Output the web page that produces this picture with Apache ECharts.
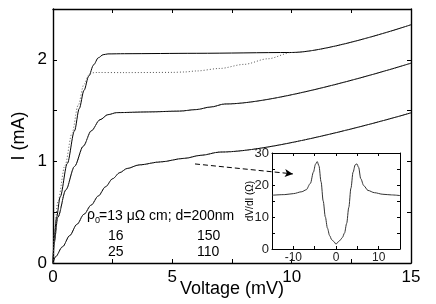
<!DOCTYPE html>
<html><head><meta charset="utf-8">
<script src="https://cdn.jsdelivr.net/npm/echarts@6/dist/echarts.min.js"></script>
<style>html,body{margin:0;padding:0;background:#fff}#c{width:436px;height:304px}</style>
</head><body><div id="c"></div>
<script>
// Main panel: I (mA) vs Voltage (mV)
const topSolid = [[0,0],[0.05,0.25],[0.15,0.45],[0.3,0.65],[0.6,0.98],[0.9,1.3],[1.1,1.52],[1.3,1.7],[1.5,1.84],[1.7,1.95],[1.9,2.02],[2.1,2.05],[2.3,2.058],[3,2.06],[6,2.064],[10,2.072],[15,2.345]];
const topDotted = [[0,0],[0.05,0.3],[0.2,0.6],[0.5,0.96],[0.8,1.28],[1.05,1.55],[1.3,1.76],[1.5,1.85],[1.65,1.872],[1.8,1.875],[3,1.874],[5,1.876],[5.5,1.88],[6,1.89],[7,1.915],[8,1.955],[9,2.01],[10,2.072],[15,2.345]];
const midSolid = [[0,0],[0.05,0.2],[0.2,0.45],[0.54,0.72],[0.9,0.95],[1.27,1.15],[1.6,1.3],[1.97,1.41],[2.3,1.46],[2.67,1.48],[4,1.487],[5.3,1.495],[6,1.51],[6.6,1.535],[7.2,1.565],[15,1.967]];
const midDotted = [[0,0],[0.05,0.2],[0.2,0.45],[0.54,0.72],[0.9,0.95],[1.27,1.15],[1.6,1.3],[1.97,1.41],[2.3,1.46],[2.67,1.48],[4,1.487],[5.3,1.495],[6,1.51],[6.6,1.535],[7.2,1.565],[15,1.967]];
const botSolid = [[0,0],[0.1,0.06],[0.4,0.16],[0.7,0.27],[1.0,0.38],[1.3,0.48],[1.6,0.57],[1.9,0.66],[2.2,0.75],[2.5,0.83],[2.8,0.89],[3.1,0.93],[3.6,0.965],[4.5,0.995],[5.5,1.03],[6.2,1.06],[7,1.092],[15,1.478]];
const botDotted = [[0,0],[0.1,0.06],[0.4,0.16],[0.7,0.27],[1.0,0.38],[1.3,0.48],[1.6,0.57],[1.9,0.66],[2.2,0.75],[2.5,0.83],[2.8,0.89],[3.1,0.93],[3.6,0.965],[4.5,0.995],[5.5,1.03],[6.2,1.06],[7,1.092],[15,1.478]];
// Arrow annotation (data coords)
const arrowFrom = [5.95, 0.975];
const arrowTo = [10.05, 0.877];
// Inset: dV/dI (Ω) vs voltage
const insetV = [-15,-12,-10,-8,-7,-6,-5.3,-4.8,-4.4,-4.0,-3.5,-3,-2.5,-2,-1.5,-1,-0.5,0,0.5,1,1.5,2,2.5,3,3.5,4,4.5,4.9,5.3,5.8,6.5,7.5,9,11,13,15];
const insetR = [16.8,17.0,17.3,17.9,18.5,20.5,24,26.5,27.3,26,21,15,10,6.5,4.2,2.9,2.3,1.5,2.2,2.8,3.6,5,8,13,19,24,26.3,26.6,25.5,22,19.8,18.3,17.6,17.1,16.9,16.7];
// Labels
const xTitle = 'Voltage (mV)';
const yTitle = 'I (mA)';
const insetYTitle = 'dV/dI (Ω)';
const legendRows = [['16','150'],['25','110']];

const FF = "'Liberation Sans', Arial, Helvetica, sans-serif";
const chart = echarts.init(document.getElementById('c'), null, {renderer:'canvas'});

function ax(extra){
  return Object.assign({
    type:'value',
    axisLine:{show:true,onZero:false,lineStyle:{color:'#000',width:1.4}},
    axisTick:{show:true,inside:true,length:4,lineStyle:{color:'#000',width:1}},
    splitLine:{show:false},
    axisLabel:{show:false},
    nameMoveOverlap:false
  }, extra);
}
const insetLine = {show:true,onZero:false,lineStyle:{color:'#000',width:1}};
const insetTick = {show:true,inside:true,length:3,lineStyle:{color:'#000',width:1}};
const lineBase = {type:'line', showSymbol:false, symbol:'none', smooth:0.3, smoothMonotone:'x', animation:false, silent:true};
const dotStyle = {color:'#555',width:1,type:[1,2]};

chart.setOption({
  animation:false,
  backgroundColor:'#fff',
  grid:[
    {left:53, top:9, width:358, height:254, outerBoundsMode:'none', containLabel:false},
    {left:272, top:153, width:128, height:96, outerBoundsMode:'none', containLabel:false, backgroundColor:'#fff', show:true, borderWidth:0}
  ],
  xAxis:[
    ax({gridIndex:0, min:0, max:15, interval:2.5, position:'bottom',
      axisLabel:{show:true, color:'#000', fontSize:17, fontFamily:FF, margin:6,
        formatter:v=> (v%5===0? String(v):'')},
      name:xTitle, nameLocation:'middle', nameGap:17, nameTextStyle:{color:'#000',fontSize:18,fontFamily:FF}}),
    ax({gridIndex:0, min:0, max:15, interval:2.5, position:'top'}),
    ax({gridIndex:1, min:-15, max:15, interval:5, position:'bottom', axisLine:insetLine, axisTick:insetTick,
      axisLabel:{show:true, color:'#222', fontSize:12, fontFamily:FF, margin:3,
        formatter:v=> (v%10===0 && Math.abs(v)<15 ? String(v):'')}}),
    ax({gridIndex:1, min:-15, max:15, interval:5, position:'top', axisLine:insetLine, axisTick:insetTick})
  ],
  yAxis:[
    ax({gridIndex:0, min:0, max:2.5, interval:0.5, position:'left',
      axisLabel:{show:true, color:'#000', fontSize:17, fontFamily:FF, margin:6,
        formatter:v=> (Math.abs(v-Math.round(v))<1e-9 && v<2.4 ? String(Math.round(v)):'')},
      name:yTitle, nameLocation:'middle', nameGap:25, nameRotate:90, nameTextStyle:{color:'#000',fontSize:18,fontFamily:FF}}),
    ax({gridIndex:0, min:0, max:2.5, interval:0.5, position:'right'}),
    ax({gridIndex:1, min:0, max:30, interval:5, position:'left', axisLine:insetLine, axisTick:insetTick,
      axisLabel:{show:true, color:'#222', fontSize:13, fontFamily:FF, margin:3,
        formatter:v=> (v%10===0? String(v):'')},
      name:insetYTitle, nameLocation:'middle', nameGap:17, nameRotate:90, nameTextStyle:{color:'#000',fontSize:10,fontFamily:FF}}),
    ax({gridIndex:1, min:0, max:30, interval:5, position:'right', axisLine:insetLine, axisTick:insetTick})
  ],
  series:[
    Object.assign({}, lineBase, {xAxisIndex:0, yAxisIndex:0, data:topSolid, lineStyle:{color:'#000',width:1}}),
    Object.assign({}, lineBase, {xAxisIndex:0, yAxisIndex:0, data:topDotted, lineStyle:dotStyle}),
    Object.assign({}, lineBase, {xAxisIndex:0, yAxisIndex:0, data:midSolid, lineStyle:{color:'#000',width:1}}),
    Object.assign({}, lineBase, {xAxisIndex:0, yAxisIndex:0, data:midDotted, lineStyle:dotStyle}),
    Object.assign({}, lineBase, {xAxisIndex:0, yAxisIndex:0, data:botSolid, lineStyle:{color:'#000',width:1}}),
    Object.assign({}, lineBase, {xAxisIndex:0, yAxisIndex:0, data:botDotted, lineStyle:dotStyle,
      markLine:{silent:true, animation:false, symbol:['none','arrow'], symbolSize:[6,8], label:{show:false},
        lineStyle:{color:'#000',width:1,type:[5,3]},
        data:[[{coord:arrowFrom},{coord:arrowTo}]]}}),
    Object.assign({}, lineBase, {xAxisIndex:2, yAxisIndex:2, data:insetV.map((v,i)=>[v,insetR[i]]), smooth:0.3, lineStyle:{color:'#333',width:1}})
  ],
  graphic:[
    {type:'text', left:87, top:208, style:{text:'ρ', font:'14px '+FF, fill:'#000'}},
    {type:'text', left:95, top:216, style:{text:'0', font:'9px '+FF, fill:'#000'}},
    {type:'text', left:99, top:209, style:{text:'=13 μΩ cm; d=200nm', font:'14px '+FF, fill:'#000'}},
    {type:'text', left:108, top:229, style:{text:legendRows[0][0], font:'14px '+FF, fill:'#000'}},
    {type:'text', left:197, top:229, style:{text:legendRows[0][1], font:'14px '+FF, fill:'#000'}},
    {type:'text', left:108, top:245, style:{text:legendRows[1][0], font:'14px '+FF, fill:'#000'}},
    {type:'text', left:197, top:245, style:{text:legendRows[1][1], font:'14px '+FF, fill:'#000'}}
  ]
});
</script></body></html>
